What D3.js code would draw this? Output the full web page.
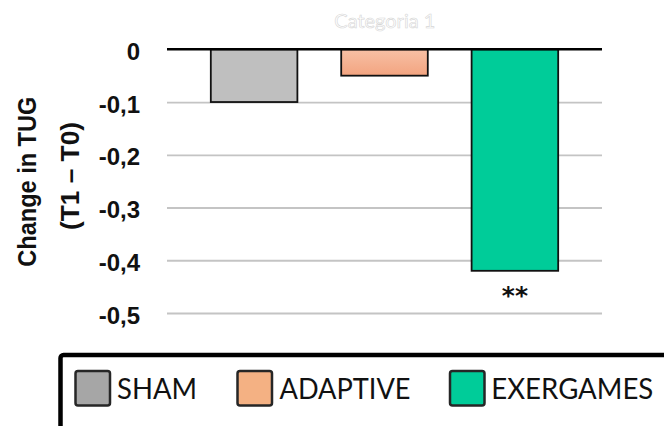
<!DOCTYPE html>
<html>
<head>
<meta charset="utf-8">
<script src="https://cdn.jsdelivr.net/npm/d3@7"></script>
<style>
  html, body { margin: 0; padding: 0; background: #fff; }
  svg { display: block; }
  .sans { font-family: "Liberation Sans", Arial, sans-serif; }
  .calib { font-family: Lato, "Open Sans", sans-serif; }
</style>
</head>
<body>
<svg id="chart" width="664" height="426"></svg>
<script>
// Change in TUG (T1 – T0) per group
const groups = ["SHAM", "ADAPTIVE", "EXERGAMES"];
const changes = [-0.10, -0.05, -0.42];
const significance = ["", "", "**"];
const yTicks = [0, -0.1, -0.2, -0.3, -0.4, -0.5];
const barColors = ["#bfbfbf", "url(#adaptiveFill)", "#00cc99"];
const swatchColors = ["#a6a6a6", "#f4b183", "#00cc99"];
const legendLabels = ["SHAM", "ADAPTIVE", "EXERGAMES"];
const categoryLabel = "Categoria 1";
const axisTitle = ["Change in TUG", "(T1 – T0)"];

const svg = d3.select("#chart");

const defs = svg.append("defs");
const grad = defs.append("linearGradient")
  .attr("id", "adaptiveFill").attr("x1", 0).attr("y1", 0).attr("x2", 0).attr("y2", 1);
grad.append("stop").attr("offset", "0%").attr("stop-color", "#f7c0a5");
grad.append("stop").attr("offset", "100%").attr("stop-color", "#f3a480");

const plot = { left: 167, right: 602, top: 49.3, bottom: 313 };

const x = d3.scaleBand()
  .domain(groups)
  .range([plot.left, plot.right])
  .paddingInner(0.336)
  .paddingOuter(0.336);

const y = d3.scaleLinear()
  .domain([0, -0.5])
  .range([plot.top, plot.bottom]);

const locale = d3.formatLocale({ decimal: ",", thousands: ".", grouping: [3], currency: ["", "€"], minus: "-" });
const fmt = d => d === 0 ? "0" : locale.format(".1f")(d);

// horizontal gridlines
const grid = svg.append("g")
  .attr("transform", `translate(${plot.left},0)`)
  .call(d3.axisLeft(y).tickValues(yTicks.filter(d => d !== 0)).tickSize(-(plot.right - plot.left)).tickFormat(""));
grid.select(".domain").remove();
grid.selectAll("line").attr("stroke", "#c4c4c4").attr("stroke-width", 1.8);

// bars
svg.append("g").selectAll("rect")
  .data(groups)
  .join("rect")
  .attr("x", d => x(d))
  .attr("y", y(0))
  .attr("width", x.bandwidth())
  .attr("height", (d, i) => y(changes[i]) - y(0))
  .attr("fill", (d, i) => barColors[i])
  .attr("stroke", "#111")
  .attr("stroke-width", 1.8);

// zero line
svg.append("line")
  .attr("x1", plot.left).attr("x2", plot.right)
  .attr("y1", y(0)).attr("y2", y(0))
  .attr("stroke", "#000").attr("stroke-width", 2.5);

// significance markers
svg.append("g").selectAll("text")
  .data(groups)
  .join("text")
  .attr("x", d => x(d) + x.bandwidth() / 2)
  .attr("y", (d, i) => y(changes[i]) + 33)
  .attr("text-anchor", "middle")
  .style("font-family", "'DejaVu Sans', sans-serif")
  .style("font-weight", "bold")
  .style("font-size", "25px")
  .attr("fill", "#111")
  .text((d, i) => significance[i]);

// y axis labels
const yAxis = svg.append("g")
  .attr("transform", `translate(${plot.left},0)`)
  .call(d3.axisLeft(y).tickValues(yTicks).tickSize(0).tickPadding(27).tickFormat(fmt));
yAxis.attr("font-family", null).attr("font-size", null);
yAxis.select(".domain").remove();
yAxis.selectAll("text")
  .attr("dy", "0.42em")
  .attr("class", "sans")
  .style("font-weight", "bold")
  .style("font-size", "24px")
  .attr("fill", "#111");

// axis title
const titlePos = [[36, 181.7, 170], [79, 176, 108]];
axisTitle.forEach((t, i) => {
  svg.append("text")
    .attr("class", "sans")
    .attr("transform", `translate(${titlePos[i][0]},${titlePos[i][1]}) rotate(-90)`)
    .attr("text-anchor", "middle")
    .style("font-weight", "bold")
    .style("font-size", "26px")
    .attr("textLength", titlePos[i][2])
    .attr("lengthAdjust", "spacingAndGlyphs")
    .attr("fill", "#111")
    .text(t);
});

// faint category label
svg.append("text")
  .attr("class", "calib")
  .attr("x", 334.3).attr("y", 27.7)
  .style("font-size", "19.5px")
  .attr("textLength", 101)
  .attr("lengthAdjust", "spacingAndGlyphs")
  .attr("fill", "#fff")
  .attr("stroke", "#d6d6d6")
  .attr("stroke-width", 0.6)
  .text(categoryLabel);

// legend
const legend = svg.append("g");
legend.append("rect")
  .attr("x", 60.5).attr("y", 355)
  .attr("width", 700).attr("height", 200)
  .attr("rx", 3)
  .attr("fill", "none")
  .attr("stroke", "#000")
  .attr("stroke-width", 4.5);

const swatchX = [75.5, 237.5, 450];
const labelX = [117, 279.5, 491.3];
const labelLen = [80, 131, 162];
legendLabels.forEach((lab, i) => {
  legend.append("rect")
    .attr("x", swatchX[i]).attr("y", 371)
    .attr("width", 34.5).attr("height", 34.5)
    .attr("rx", 2.5)
    .attr("fill", swatchColors[i])
    .attr("stroke", "#262626")
    .attr("stroke-width", 2.5);
  legend.append("text")
    .attr("class", "calib")
    .attr("x", labelX[i]).attr("y", 398.5)
    .style("font-size", "28px")
    .attr("textLength", labelLen[i])
    .attr("lengthAdjust", "spacingAndGlyphs")
    .attr("fill", "#111")
    .text(lab);
});
</script>
</body>
</html>
